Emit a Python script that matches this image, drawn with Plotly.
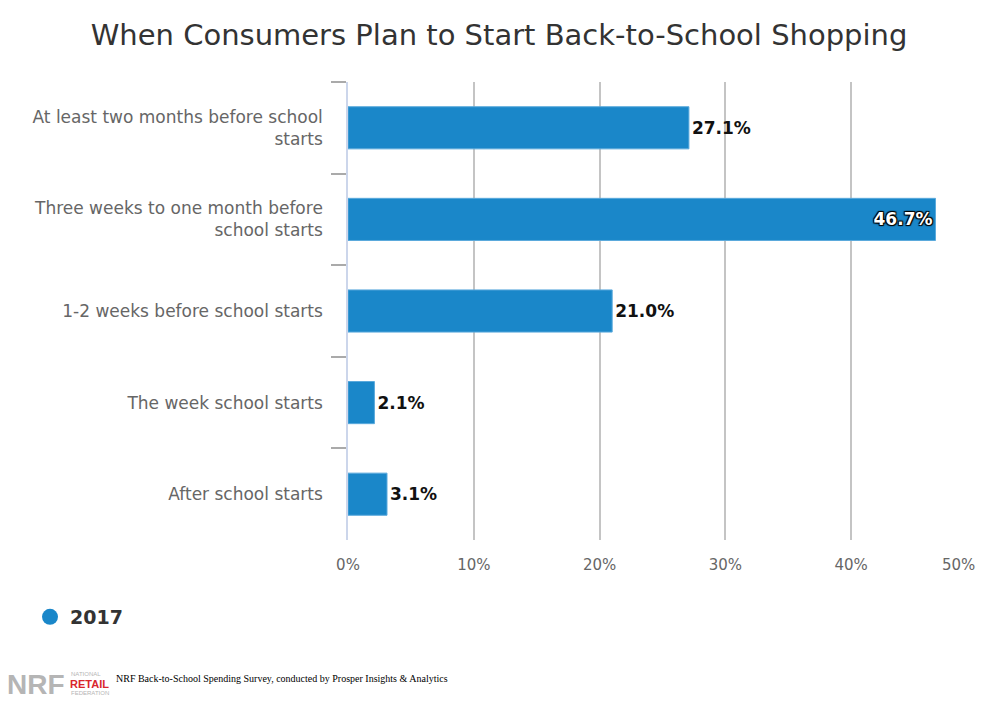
import plotly.graph_objects as go

categories = [
    "At least two months before school<br>starts",
    "Three weeks to one month before<br>school starts",
    "1-2 weeks before school starts",
    "The week school starts",
    "After school starts",
]
values_2017 = [27.1, 46.7, 21.0, 2.1, 3.1]
label_positions = ["outside", "inside", "outside", "outside", "outside"]
series_name = "2017"
x_ticks = [0, 10, 20, 30, 40]
x_tick_labels = ["0%", "10%", "20%", "30%", "40%"]
x_last_tick = 50
x_last_label = "50%"

# The page body adds an 8px offset; lay out in screenshot coordinates.
OFF = 8
W, H = 990 - OFF, 703 - OFF
L, R, T, B = 348 - OFF, 977 - OFF, 82 - OFF, 540 - OFF

def px(x):
    return (x - OFF - L) / (R - L)

def py(y):
    return (B - (y - OFF)) / (B - T)

bar_color = "#1a87c9"
font_main = "DejaVu Sans"

fig = go.Figure()
fig.add_trace(go.Bar(
    x=values_2017,
    y=categories,
    orientation="h",
    marker=dict(color=bar_color, line=dict(color="#5aa9dc", width=1)),
    width=0.46,
    text=[f"{v:.1f}%" for v in values_2017],
    textposition=label_positions,
    insidetextanchor="end",
    outsidetextfont=dict(family=font_main, size=17, color="#111111", weight="bold"),
    insidetextfont=dict(family=font_main, size=17, color="#ffffff", weight="bold",
                        shadow="1px 1px 1px #000, -1px -1px 1px #000, 1px -1px 1px #000, -1px 1px 1px #000"),
    cliponaxis=False,
    showlegend=False,
    hoverinfo="skip",
))
# legend entry with a circle symbol
fig.add_trace(go.Scatter(
    x=[None], y=[None], mode="markers", name=series_name,
    marker=dict(color=bar_color, size=16, symbol="circle"),
    showlegend=True,
))

fig.update_layout(
    width=W, height=H,
    margin=dict(l=L, r=W - R, t=T, b=H - B, autoexpand=False),
    paper_bgcolor="white",
    plot_bgcolor="white",
    title=dict(
        text="When Consumers Plan to Start Back-to-School Shopping",
        x=(499 - OFF) / W, xanchor="center", xref="container",
        y=1 - (35 - OFF) / H, yanchor="middle", yref="container",
        font=dict(family=font_main, size=29, color="#333333"),
    ),
    xaxis=dict(
        range=[0, 50],
        tickvals=x_ticks + [x_last_tick], ticktext=x_tick_labels + [""],
        showgrid=True, gridcolor="#c4c4c4", gridwidth=1.5,
        zeroline=False, showline=False, ticks="",
        tickfont=dict(family=font_main, size=15, color="#666666"),
        ticklabelstandoff=14,
        automargin=False,
        fixedrange=True,
    ),
    yaxis=dict(
        categoryorder="array", categoryarray=categories,
        autorange="reversed",
        showgrid=False, zeroline=False,
        showline=True, linecolor="#ccd6eb", linewidth=1.5,
        ticks="outside", ticklen=15, tickcolor="#aaaaaa", tickwidth=1.5,
        tickson="boundaries",
        tickfont=dict(family=font_main, size=17, color="#666666"),
        ticklabelstandoff=20,
        automargin=False,
    ),
    legend=dict(
        x=px(30), y=py(617), xanchor="left", yanchor="middle",
        font=dict(family=font_main, size=19, color="#333333", weight="bold"),
        bgcolor="rgba(0,0,0,0)",
    ),
    bargap=0.54,
)

# last x tick label, justified to stay inside the chart (as in the original)
fig.add_annotation(
    xref="x", yref="paper", x=x_last_tick, y=py(565),
    xanchor="right", yanchor="middle", showarrow=False,
    text=x_last_label,
    font=dict(family=font_main, size=15, color="#666666"),
)

# footer: NRF logo text + source
fig.add_annotation(
    xref="paper", yref="paper", x=px(5), y=py(684),
    xanchor="left", yanchor="middle", showarrow=False,
    text="<b>NRF</b>",
    font=dict(family="Liberation Sans", size=28, color="#b5b5b5"),
)
fig.add_annotation(
    xref="paper", yref="paper", x=px(69), y=py(674),
    xanchor="left", yanchor="middle", showarrow=False,
    text="NATIONAL",
    font=dict(family="Liberation Sans", size=6, color="#b5b5b5"),
)
fig.add_annotation(
    xref="paper", yref="paper", x=px(68), y=py(684),
    xanchor="left", yanchor="middle", showarrow=False,
    text="<b>RETAIL</b>",
    font=dict(family="Liberation Sans", size=11, color="#d9262c"),
)
fig.add_annotation(
    xref="paper", yref="paper", x=px(69), y=py(693),
    xanchor="left", yanchor="middle", showarrow=False,
    text="FEDERATION",
    font=dict(family="Liberation Sans", size=6, color="#b5b5b5"),
)
fig.add_annotation(
    xref="paper", yref="paper", x=px(114), y=py(678),
    xanchor="left", yanchor="middle", showarrow=False,
    text="NRF Back-to-School Spending Survey, conducted by Prosper Insights &amp; Analytics",
    font=dict(family="Liberation Serif", size=10, color="#000000"),
)

fig.write_html("out.html")
